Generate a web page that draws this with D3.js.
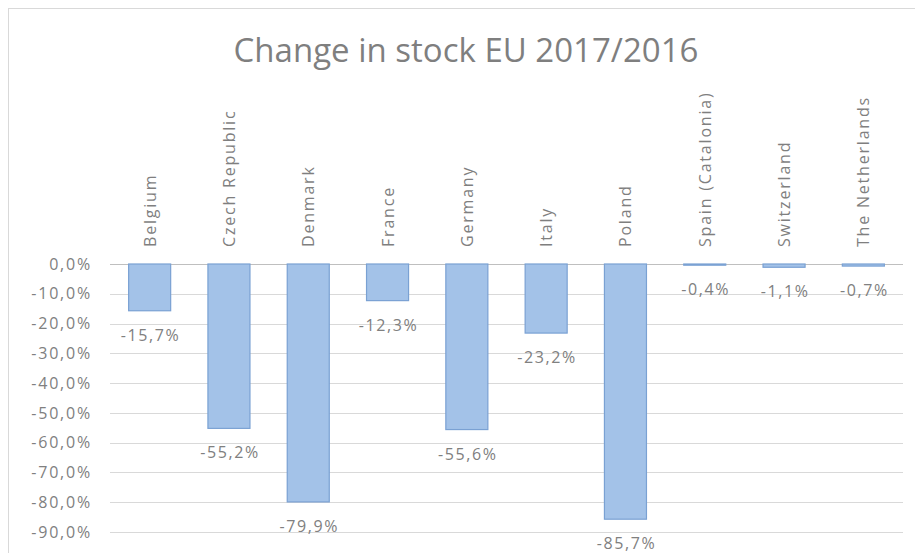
<!DOCTYPE html>
<html>
<head>
  <meta charset="utf-8">
  <style>
    body { margin: 0; background: #fff; }
    svg { font-family: "Open Sans", sans-serif; }
  </style>
</head>
<body>
  <div id="chart"></div>
  <script src="https://d3js.org/d3.v7.min.js"></script>
  <script>
    var countries = ['Belgium', 'Czech Republic', 'Denmark', 'France', 'Germany',
      'Italy', 'Poland', 'Spain (Catalonia)', 'Switzerland', 'The Netherlands'];
    var change = [-15.7, -55.2, -79.9, -12.3, -55.6, -23.2, -85.7, -0.4, -1.1, -0.7];
    var yTicks = [0, -10, -20, -30, -40, -50, -60, -70, -80, -90];

    var width = 915, height = 553;

    var svg = d3.select('#chart')
        .append('svg')
        .attr('width', width)
        .attr('height', height);

    // outer chart border (only left/top visible in the original crop)
    svg.append('rect')
        .attr('x', 8.5).attr('y', 8.5)
        .attr('width', width + 20).attr('height', height + 20)
        .attr('fill', 'none')
        .attr('stroke', '#d9d9d9');

    var locale = d3.formatLocale({decimal: ',', thousands: '.', grouping: [3], currency: ['', ''], minus: '-'});
    var fmt = locale.format('.1f');

    var x = d3.scaleBand()
        .domain(countries)
        .range([110, 903])
        .paddingInner(0.47)
        .paddingOuter(0.235);

    var y = d3.scaleLinear()
        .domain([-90, 0])
        .range([532, 264]);

    // gridlines
    svg.append('g')
        .selectAll('line')
        .data(yTicks)
        .join('line')
        .attr('x1', 110).attr('x2', 903)
        .attr('y1', d => Math.round(y(d)) + 0.5)
        .attr('y2', d => Math.round(y(d)) + 0.5)
        .attr('stroke', d => d === 0 ? '#bfbfbf' : '#d9d9d9')
        .attr('stroke-width', 1);

    // y axis labels
    var yAxis = d3.axisLeft(y)
        .tickValues(yTicks)
        .tickSize(0)
        .tickPadding(0)
        .tickFormat(d => fmt(d) + '%');

    svg.append('g')
        .attr('transform', 'translate(92,0)')
        .call(yAxis)
        .call(g => g.select('.domain').remove())
        .call(g => g.selectAll('text')
            .attr('fill', '#808080')
            .style('font-size', '16px')
            .style('letter-spacing', '1.8px')
            .style('font-family', '"Open Sans", sans-serif'));

    // bars
    svg.append('g')
        .selectAll('rect')
        .data(countries)
        .join('rect')
        .attr('x', d => x(d))
        .attr('y', y(0))
        .attr('width', x.bandwidth())
        .attr('height', (d, i) => y(change[i]) - y(0))
        .attr('fill', '#a3c2e8')
        .attr('stroke', '#7aa1d3')
        .attr('stroke-width', 1.2);

    // value labels
    svg.append('g')
        .selectAll('text')
        .data(countries)
        .join('text')
        .attr('x', d => x(d) + x.bandwidth() / 2 + 1)
        .attr('y', (d, i) => y(change[i]) + 30)
        .attr('text-anchor', 'middle')
        .attr('fill', '#808080')
        .style('font-size', '16px')
        .style('letter-spacing', '1.6px')
        .text((d, i) => fmt(change[i]) + '%');

    // category labels, rotated, above the zero line
    svg.append('g')
        .selectAll('text')
        .data(countries)
        .join('text')
        .attr('transform', d => 'translate(' + (x(d) + x.bandwidth() / 2 + 6) + ',247) rotate(-90)')
        .attr('text-anchor', 'start')
        .attr('fill', '#7f7f7f')
        .style('font-size', '16px')
        .style('letter-spacing', '1.8px')
        .text(d => d);

    // title
    svg.append('text')
        .attr('x', 466)
        .attr('y', 62)
        .attr('text-anchor', 'middle')
        .attr('fill', '#7f7f7f')
        .style('font-size', '33px')
        .text('Change in stock EU 2017/2016');
  </script>
</body>
</html>
